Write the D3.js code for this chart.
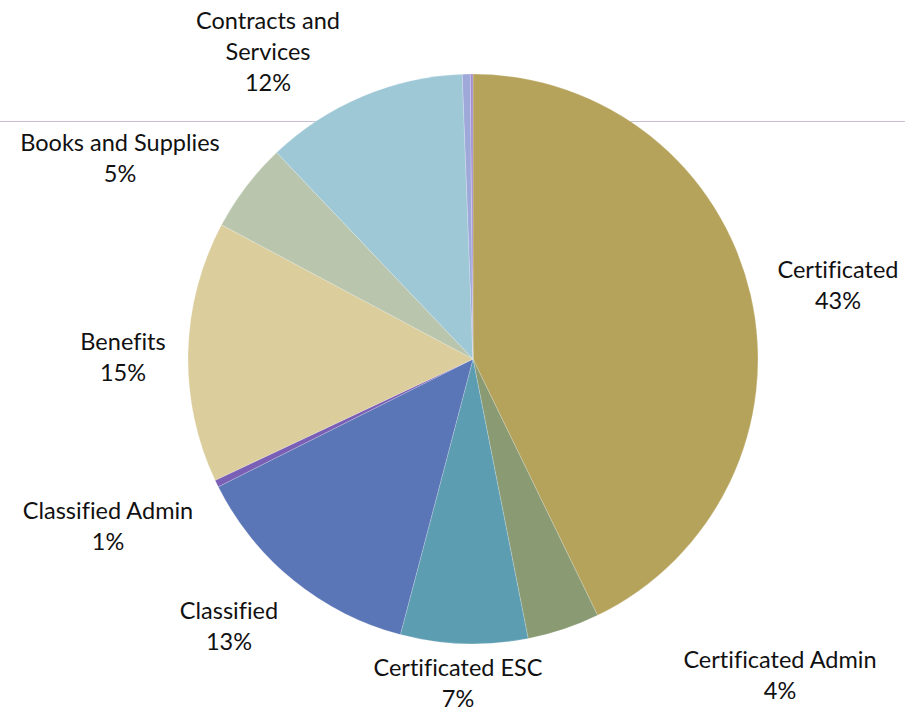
<!DOCTYPE html>
<html>
<head>
<meta charset="utf-8">
<script src="https://cdn.jsdelivr.net/npm/d3@7"></script>
<style>
  body { margin: 0; background: #fff; }
  text { font-family: Lato, "Open Sans", sans-serif; font-size: 23.5px; fill: #111;
    font-variant-ligatures: none; }
</style>
</head>
<body>
<div id="chart"></div>
<script>
// slices, clockwise from 12 o'clock
var categories = ["Certificated", "Certificated Admin", "Certificated ESC", "Classified",
  "Classified Admin", "Benefits", "Books and Supplies", "Contracts and Services", "Other", "Other 2"];
var values = [42.8, 4.1, 7.2, 13.5, 0.4, 14.8, 5.1, 11.5, 0.45, 0.15];
var pctLabels = ["43%", "4%", "7%", "13%", "1%", "15%", "5%", "12%", null, null];
var colors = ["#b5a25b", "#8a9a72", "#5d9db2", "#5b76b7", "#7a5fb6",
  "#dbcd9c", "#b9c6ad", "#9fc8d7", "#9ea9da", "#a48fd3"];

// label layout (centre of first line), Excel best fit positions
var labelLines = [["Certificated"], ["Certificated Admin"], ["Certificated ESC"], ["Classified"],
  ["Classified Admin"], ["Benefits"], ["Books and Supplies"], ["Contracts and", "Services"], [], []];
var labelPos = [[838, 270], [780, 660], [458, 668], [229, 611], [108, 511],
  [123, 342], [120, 143], [268, 21], null, null];

var width = 905, height = 711;
var cx = 473, cy = 359, radius = 285;
var lineH = 31;

var svg = d3.select("#chart").append("svg")
  .attr("width", width)
  .attr("height", height);

// faint rule behind the pie
svg.append("line")
  .attr("x1", 0).attr("x2", width)
  .attr("y1", 121.5).attr("y2", 121.5)
  .style("stroke", "#c8bdd8")
  .style("stroke-width", 1);

var pie = d3.pie().sort(null).value(function (d) { return d; });
var arc = d3.arc().innerRadius(0).outerRadius(radius);

var g = svg.append("g").attr("transform", "translate(" + cx + "," + cy + ")");

g.selectAll("path")
  .data(pie(values))
  .enter()
  .append("path")
  .attr("d", arc)
  .style("fill", function (d, i) { return colors[i]; })
  .style("stroke", "#fff")
  .style("stroke-width", 0.2);

var labels = svg.selectAll(".slice-label")
  .data(categories)
  .enter()
  .filter(function (d, i) { return labelPos[i] != null; })
  .append("text")
  .attr("class", "slice-label")
  .attr("text-anchor", "middle")
  .attr("x", function (d) { return labelPos[categories.indexOf(d)][0]; })
  .attr("y", function (d) { return labelPos[categories.indexOf(d)][1]; });

labels.each(function (d) {
  var i = categories.indexOf(d);
  var lines = labelLines[i].concat([pctLabels[i]]);
  var t = d3.select(this);
  lines.forEach(function (s, k) {
    t.append("tspan")
      .attr("x", labelPos[i][0])
      .attr("dy", k === 0 ? "0.35em" : lineH)
      .text(s);
  });
});
</script>
</body>
</html>
